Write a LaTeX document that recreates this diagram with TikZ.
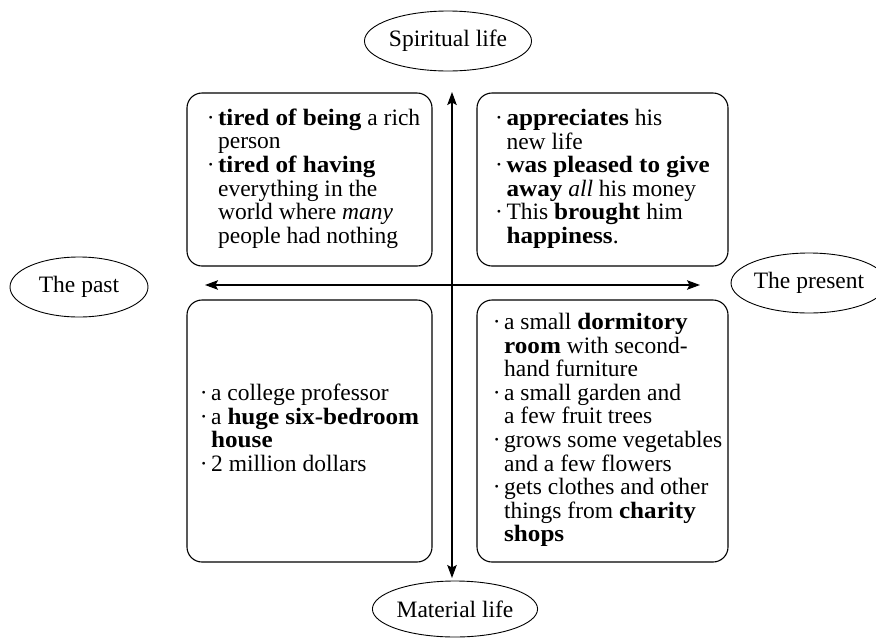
\documentclass[tikz,border=0pt]{standalone}
\usepackage{fontspec}
\setmainfont{Liberation Serif}[BoldFeatures={FakeStretch=1.07}]
\usetikzlibrary{shapes.geometric,arrows.meta}
\newcommand{\bul}{·}
\begin{document}
\begin{tikzpicture}[x=1pt,y=-1pt,
  txt/.style={font=\fontsize{23.5}{23.5}\selectfont, inner sep=0pt, text=black},
  oval/.style={txt, draw, ellipse, line width=0.9pt},
  quad/.style={txt, draw, rectangle, rounded corners=15pt, line width=1.1pt},
  axis/.style={line width=1.1pt, {Stealth[length=13pt,width=9.5pt,inset=2.5pt]}-{Stealth[length=13pt,width=9.5pt,inset=2.5pt]}}]
\useasboundingbox (0,0) rectangle (876,638);

% quadrant boxes
\node[quad, minimum width=245pt, minimum height=173pt] (tl) at (309.5,179.5) {\hspace*{8pt}%
\begin{tabular}{@{}l@{\hspace{3.5pt}}l@{}}
\bul & \textbf{tired of being} a rich\\
     & person\\
\bul & \textbf{tired of having}\\
     & everything in the\\
     & world where \textit{many}\\
     & people had nothing
\end{tabular}};

\node[quad, minimum width=251pt, minimum height=173pt] (tr) at (602.5,179.5) {%
\begin{tabular}{@{}l@{\hspace{3.5pt}}l@{}}
\bul & \textbf{appreciates} his\\
     & new life\\
\bul & \textbf{was pleased to give}\\
     & \textbf{away} \textit{all} his money\\
\bul & This \textbf{brought} him\\
     & \textbf{happiness}.
\end{tabular}};

\node[quad, minimum width=245pt, minimum height=262pt] (bl) at (309.5,431) {%
\begin{tabular}{@{}l@{\hspace{3.5pt}}l@{}}
\bul & a college professor\\
\bul & a \textbf{huge six-bedroom}\\
     & \textbf{house}\\
\bul & 2 million dollars
\end{tabular}};

\node[quad, minimum width=251pt, minimum height=262pt] (br) at (602.5,431) {\hspace*{10pt}%
\begin{tabular}{@{}l@{\hspace{3.5pt}}l@{}}
\bul & a small \textbf{dormitory}\\
     & \textbf{room} with second-\\
     & hand furniture\\
\bul & a small garden and\\
     & a few fruit trees\\
\bul & grows some vegetables\\
     & and a few flowers\\
\bul & gets clothes and other\\
     & things from \textbf{charity}\\
     & \textbf{shops}
\end{tabular}};

% ellipses
\node[oval, minimum width=140pt, minimum height=60pt] (spirit) at (448,41) {Spiritual life};
\node[oval, minimum width=138pt, minimum height=56pt] (material) at (455,609) {Material life};
\node[oval, minimum width=138pt, minimum height=60pt] (past) at (79,287) {The past};
\node[oval, minimum width=132pt, minimum height=60pt] (present) at (809,283) {The present};

% axes
\coordinate (vt) at (452,92);
\coordinate (vb) at (452,578);
\coordinate (hl) at (205,285);
\coordinate (hr) at (700,285);
\draw[axis] (vt) -- (vb);
\draw[axis] (hl) -- (hr);
\end{tikzpicture}
\end{document}
